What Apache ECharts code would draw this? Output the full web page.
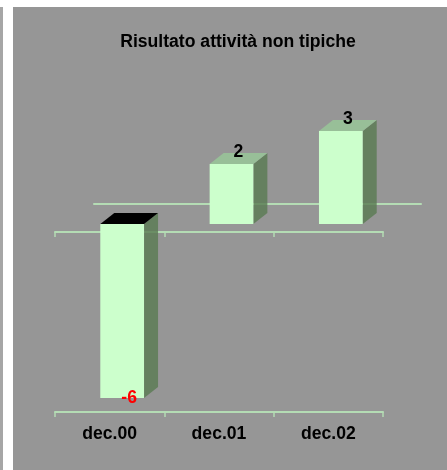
<!DOCTYPE html>
<html>
<head>
<meta charset="utf-8">
<style>
  html, body { margin: 0; padding: 0; background: #fff; }
  #strip { position: absolute; left: 0; top: 7px; width: 3px; height: 463px; background: #a6a6a6; }
  #chart { position: absolute; left: 0; top: 0; width: 447px; height: 470px; }
</style>
<script src="https://cdn.jsdelivr.net/npm/echarts@6/dist/echarts.min.js"></script>
</head>
<body>
<div id="strip"></div>
<div id="chart"></div>
<script>
const categories = ['dec.00', 'dec.01', 'dec.02'];
const values = [-5.8, 2, 3.1];

const font = '"Liberation Sans", Arial, sans-serif';
const fontSize = 17.6;
const lineColor = '#b4dcb4';
const depthX = 14, depthY = 11; // fake 3d depth of the bars
const shiftX = 12.5, shiftY = 8; // bars stand a bit behind the front axis

function renderBar(params, api) {
  const value = api.value(1);
  const base = api.coord([api.value(0), 0]);
  const tip = api.coord([api.value(0), value]);
  const w = api.size([1, 0])[0] * 0.4;
  const x0 = base[0] - w / 2 + shiftX, x1 = x0 + w;
  const top = Math.min(base[1], tip[1]) - shiftY;
  const bottom = Math.max(base[1], tip[1]) - shiftY;
  const face = (pts, fill) => ({ type: 'polygon', shape: { points: pts }, style: { fill: fill } });
  return {
    type: 'group',
    children: [
      face([[x1, top], [x1 + depthX, top - depthY], [x1 + depthX, bottom - depthY], [x1, bottom]], 'rgba(89,122,81,0.8)'),
      face([[x0, top], [x0 + depthX, top - depthY], [x1 + depthX, top - depthY], [x1, top]], value < 0 ? '#000' : '#98bf98'),
      face([[x0, top], [x1, top], [x1, bottom], [x0, bottom]], '#ccffcc')
    ]
  };
}

function renderLabel(params, api) {
  const value = api.value(1);
  const tip = api.coord([api.value(0), value]);
  const neg = value < 0;
  return {
    type: 'text',
    x: tip[0] + shiftX + 7,
    y: tip[1] - shiftY + (neg ? 0 : -12),
    style: {
      text: String(Math.round(value)),
      fill: neg ? '#ff0000' : '#000',
      font: 'bold ' + fontSize + 'px ' + font,
      align: 'center',
      verticalAlign: 'middle'
    }
  };
}

const axisLine = (onZero) => ({ onZero: onZero, lineStyle: { color: lineColor, width: 2 } });
const axisTick = { show: true, length: 5, lineStyle: { color: lineColor, width: 1.5 } };

const chart = echarts.init(document.getElementById('chart'));
chart.setOption({
  animation: false,
  graphic: [{
    type: 'rect', z: -10, silent: true,
    shape: { x: 13, y: 7, width: 434, height: 463 },
    style: { fill: '#969696' }
  }],
  title: {
    text: 'Risultato attività non tipiche',
    left: 233, top: 28, textAlign: 'center',
    textStyle: { fontFamily: font, fontSize: fontSize, fontWeight: 'bold', color: '#000' }
  },
  grid: [
    { left: 55, top: 112, width: 328, height: 300 },
    { left: 94, top: 104, width: 327, height: 100 }
  ],
  xAxis: [
    {
      type: 'category', data: categories, gridIndex: 0, position: 'bottom',
      axisLine: axisLine(true), axisTick: axisTick,
      axisLabel: { show: false }
    },
    {
      type: 'category', data: categories, gridIndex: 0, position: 'bottom',
      axisLine: axisLine(false), axisTick: axisTick,
      axisLabel: { color: '#000', fontFamily: font, fontSize: fontSize, fontWeight: 'bold', margin: 13 }
    },
    {
      type: 'category', data: categories, gridIndex: 1, position: 'bottom',
      axisLine: axisLine(false),
      axisTick: { show: false }, axisLabel: { show: false }
    }
  ],
  yAxis: [
    { type: 'value', gridIndex: 0, min: -6, max: 4, show: false },
    { type: 'value', gridIndex: 1, min: 0, max: 1, show: false }
  ],
  series: [
    {
      type: 'custom', xAxisIndex: 0, yAxisIndex: 0, z: 5,
      renderItem: renderBar,
      encode: { x: 0, y: 1 },
      data: categories.map((c, i) => [i, values[i]])
    },
    {
      type: 'custom', xAxisIndex: 0, yAxisIndex: 0, z: 6,
      renderItem: renderLabel,
      encode: { x: 0, y: 1 },
      data: categories.map((c, i) => [i, values[i]])
    }
  ]
});
</script>
</body>
</html>
